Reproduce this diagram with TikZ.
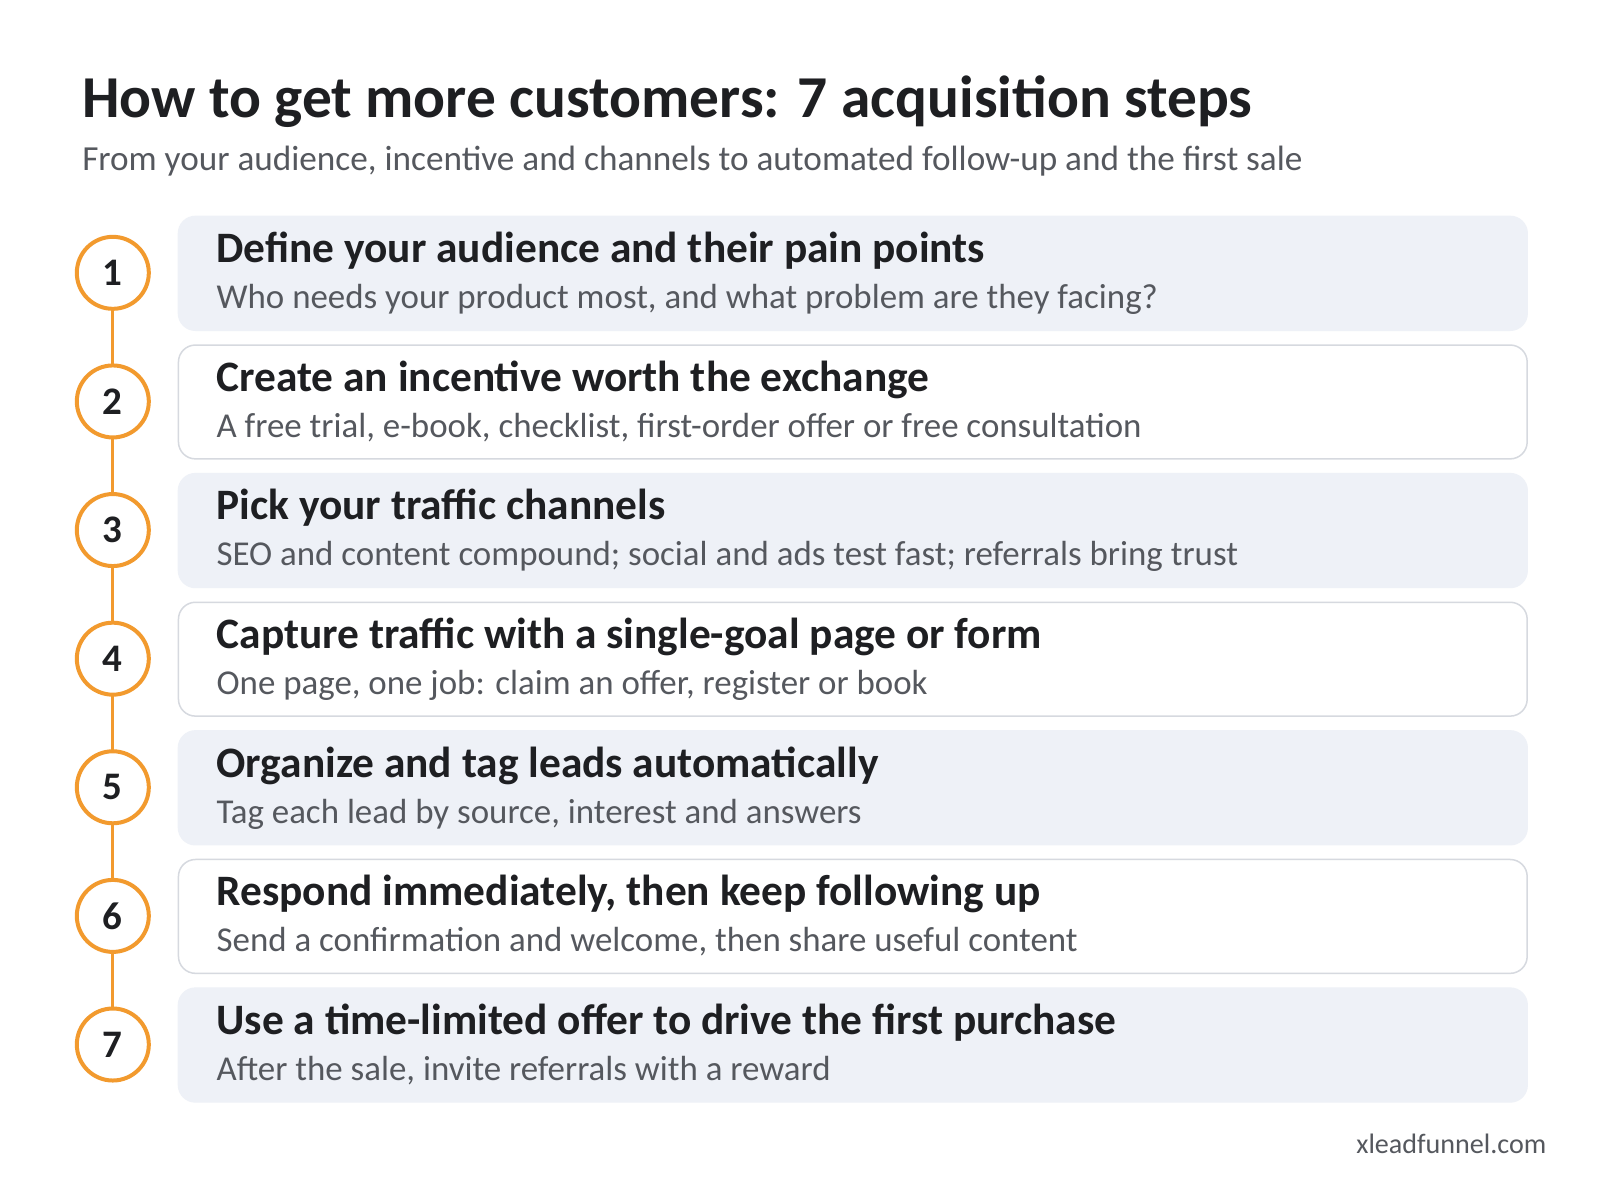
\documentclass[tikz,border=0pt]{standalone}
\usepackage{fontspec}
\setmainfont{Carlito}
\definecolor{org}{HTML}{F29A2E}
\definecolor{boxf}{HTML}{EEF1F7}
\definecolor{boxd}{HTML}{D6D9DF}
\definecolor{ttl}{HTML}{1E1F22}
\definecolor{sub}{HTML}{55585E}
\begin{document}
\begin{tikzpicture}[x=1.0256pt,y=-1.0256pt,
  card/.style={rounded corners=17pt,line width=1.5pt},
  filled/.style={card,fill=boxf,draw=boxf},
  plain/.style={card,fill=white,draw=boxd},
  num/.style={circle,draw=org,line width=4pt,fill=white,minimum size=72pt,inner sep=0pt,font=\fontsize{39}{39}\selectfont\bfseries,text=ttl},
  head/.style={anchor=base west,inner sep=0pt,font=\fontsize{43.4}{43.4}\selectfont\bfseries,text=ttl},
  desc/.style={anchor=base west,inner sep=0pt,font=\fontsize{34.9}{34.9}\selectfont,text=sub}]
\useasboundingbox (0,0) rectangle (1560,1148.6);
\fill[white] (0,0) rectangle (1560,1148.6);
\node[anchor=base west,inner sep=0pt,font=\fontsize{59.4}{59.4}\selectfont\bfseries,text=ttl] (title) at (80,115) {How to get more customers: 7 acquisition steps};
\node[anchor=base west,inner sep=0pt,font=\fontsize{35.2}{35.2}\selectfont,text=sub] (subtitle) at (80,166) {From your audience, incentive and channels to automated follow-up and the first sale};
\foreach \i/\h/\d in {
1/Define your audience and their pain points/{Who needs your product most, and what problem are they facing?},
2/Create an incentive worth the exchange/{A free trial, e-book, checklist, first-order offer or free consultation},
3/Pick your traffic channels/{SEO and content compound; social and ads test fast; referrals bring trust},
4/Capture traffic with a single-goal page or form/{One page, one job: claim an offer, register or book},
5/Organize and tag leads automatically/{Tag each lead by source, interest and answers},
6/{Respond immediately, then keep following up}/{Send a confirmation and welcome, then share useful content},
7/Use a time-limited offer to drive the first purchase/{After the sale, invite referrals with a reward}}{
  \pgfmathsetmacro{\yy}{266+125.4*(\i-1)}
  \ifodd\i \def\st{filled}\else\def\st{plain}\fi
  \draw[\st] (174,\yy-55) rectangle (1489,\yy+56);
  \node[head] (h\i) at (211,\yy-10) {\h};
  \node[desc] (d\i) at (211,\yy+35) {\d};
}
\foreach \i in {1,...,7}{
  \path (110,{266+125.4*(\i-1)}) coordinate (c\i);
}
\draw[org,line width=3pt] (c1) -- (c7);
\foreach \i in {1,...,7}{ \node[num] (n\i) at (c\i) {\i}; }
\node[anchor=base east,inner sep=0pt,font=\fontsize{28.1}{28.1}\selectfont,text=sub] (brand) at (1508,1125) {xleadfunnel.com};
\end{tikzpicture}
\end{document}
